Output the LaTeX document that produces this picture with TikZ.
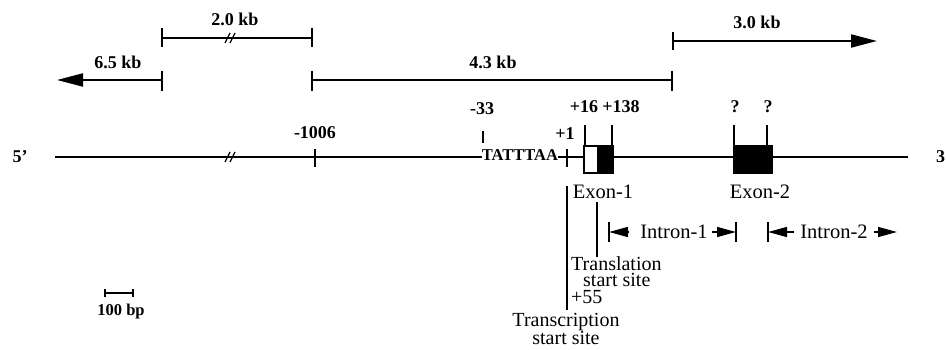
\documentclass[tikz,border=0pt]{standalone}
\usepackage{fontspec}
\setmainfont{Liberation Serif}
\usetikzlibrary{arrows.meta}
\begin{document}
\begin{tikzpicture}[x=1pt,y=-1pt,
  line/.style={line width=2pt},
  tickl/.style={line width=1.6pt},
  lbl/.style={font=\fontsize{18}{19}\selectfont\bfseries, inner sep=0pt},
  txt/.style={font=\fontsize{20.5}{21}\selectfont, inner sep=0pt},
  bigarrow/.style={line, -{Triangle[length=26pt,width=13pt]}},
  smallhead/.style={line width=1.4pt, -{Triangle[length=19pt,width=10pt]}},
  exonbox/.style={draw, line width=1.5pt},
]
\useasboundingbox (0,0) rectangle (946,350);

% ---- scale bars ----
\coordinate (b65) at (162,80); \coordinate (b65tip) at (57,80);
\draw[bigarrow] (b65) -- (b65tip);
\draw[tickl] (162,71) -- (162,91);
\node[lbl] (l65) at (118,62) {6.5 kb};

\coordinate (b20a) at (162,38); \coordinate (b20b) at (312,38);
\draw[line] (b20a) -- (b20b);
\draw[tickl] (162,28) -- (162,47) (312,28) -- (312,47);
\draw[line width=1.2pt] (225,43) -- (230,33) (230,43) -- (235,33);
\node[lbl] (l20) at (235,19) {2.0 kb};

\coordinate (b43a) at (312,80); \coordinate (b43b) at (672,80);
\draw[line] (b43a) -- (b43b);
\draw[tickl] (312,71) -- (312,91) (672,71) -- (672,91);
\node[lbl] (l43) at (493,62) {4.3 kb};

\coordinate (b30a) at (673,41); \coordinate (b30tip) at (877,41);
\draw[bigarrow] (b30a) -- (b30tip);
\draw[tickl] (673,32) -- (673,50);
\node[lbl] (l30) at (757,22) {3.0 kb};

% ---- main line ----
\node[lbl] (five) at (20,157) {5'};
\node[lbl, anchor=west] (three) at (936,157) {3'};
\node[font=\fontsize{16.5}{17}\selectfont\bfseries, inner sep=0pt] (tata) at (520,155) {TATTTAA};
\coordinate (m0) at (55,157);
\draw[line] (m0) -- (tata.west |- m0);
\draw[line width=1.2pt] (225,162) -- (230,152) (230,162) -- (235,152);

\node[exonbox, fill=white, minimum width=14pt, minimum height=27pt, inner sep=0pt] (e1w) at (591,159.5) {};
\node[exonbox, fill=black, minimum width=15pt, minimum height=27pt, inner sep=0pt] (e1b) at (605.5,159.5) {};
\node[exonbox, fill=black, minimum width=38pt, minimum height=27pt, inner sep=0pt] (e2) at (753,159.5) {};
\coordinate (mend) at (908,157);
\draw[line] (tata.east |- m0) -- (e1w.west |- m0);
\draw[line] (e1b.east |- m0) -- (e2.west |- m0);
\draw[line] (e2.east |- m0) -- (mend);

% ticks on main line
\draw[tickl] (315,149) -- (315,167);
\node[lbl] (l1006) at (315,133) {-1006};
\draw[tickl] (483,131) -- (483,143);
\node[lbl] (l33) at (482,109) {-33};
\draw[tickl] (567,149) -- (567,167);
\node[lbl] (lp1) at (565,134) {+1};
\draw[tickl] (585,125) -- (585,145) (612,125) -- (612,145);
\node[lbl] (lp16) at (584,107) {+16};
\node[lbl] (lp138) at (621,107) {+138};
\draw[tickl] (734,125) -- (734,145) (767,125) -- (767,145);
\node[lbl] (q1) at (735,107) {?};
\node[lbl] (q2) at (768,107) {?};

\node[txt] (ex1) at (603,192) {Exon-1};
\node[txt] (ex2) at (760,192) {Exon-2};

% start sites
\coordinate (tsA) at (567,186); \coordinate (tsB) at (567,310);
\draw[tickl] (tsA) -- (tsB);
\node[font=\fontsize{20}{15}\selectfont, inner sep=0pt, align=center, anchor=north] (trsc) at (566,313) {Transcription\\start site};
\coordinate (tlA) at (597,202); \coordinate (tlB) at (597,257);
\draw[tickl] (tlA) -- (tlB);
\node[font=\fontsize{20}{16.5}\selectfont, inner sep=0pt, align=left, anchor=north west] (trsl) at (571,256)
  {Translation\\\hspace*{12pt}start site\\+55};

% introns
\node[txt] (in1) at (674,232) {Intron-1};
\coordinate (i1L) at (609,232); \coordinate (i1R) at (736,232);
\draw[tickl] (609,222) -- (609,242) (736,222) -- (736,242);
\draw[smallhead] ([xshift=-12pt]in1.west) -- (i1L);
\draw[smallhead] ([xshift=4pt]in1.east) -- (i1R);
\node[txt] (in2) at (834,232) {Intron-2};
\coordinate (i2L) at (768,232); \coordinate (i2R) at (897,232);
\draw[tickl] (768,222) -- (768,242);
\draw[smallhead] ([xshift=-6pt]in2.west) -- (i2L);
\draw[smallhead] ([xshift=6pt]in2.east) -- (i2R);

% 100 bp scale
\coordinate (s1) at (105,293); \coordinate (s2) at (133,293);
\draw[line width=1.5pt] (s1) -- (s2);
\draw[line width=1.2pt] (105,289) -- (105,297) (133,289) -- (133,297);
\node[font=\fontsize{16.5}{17}\selectfont\bfseries, inner sep=0pt] (l100) at (121,312) {100 bp};
\end{tikzpicture}
\end{document}
